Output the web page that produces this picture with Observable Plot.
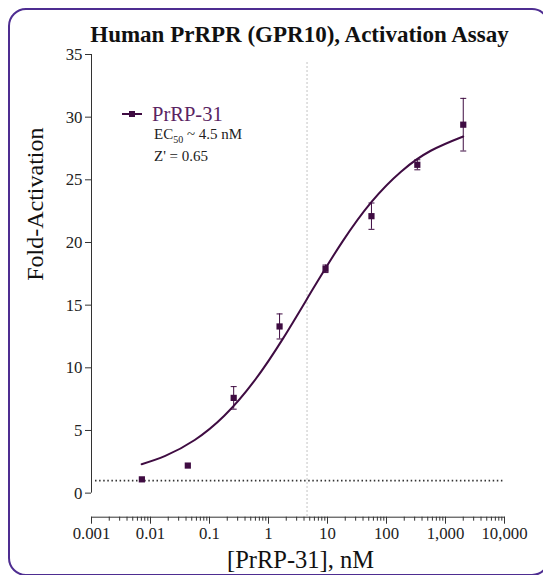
<!DOCTYPE html>
<html>
<head>
<meta charset="utf-8">
<script src="https://cdn.jsdelivr.net/npm/d3@7"></script>
<script src="https://cdn.jsdelivr.net/npm/@observablehq/plot@0.6"></script>
<style>
  body { margin: 0; background: #fff; }
  #wrap { position: relative; width: 543px; height: 575px; overflow: hidden; font-family: "Liberation Serif", "Times New Roman", serif; }
  #border { position: absolute; left: 8px; top: 8px; width: 542px; height: 568px; border: 2.5px solid #4e2d91; border-radius: 18px; box-sizing: border-box; pointer-events: none; }
  #chart { position: absolute; left: 0; top: 0; }
  #legend { position: absolute; left: 0; top: 0; pointer-events: none; }
</style>
</head>
<body>
<div id="wrap">
  <div id="chart"></div>
  <svg id="legend" width="543" height="575" font-family="Liberation Serif, Times New Roman, serif"></svg>
  <div id="border"></div>
</div>
<script>
// ---- data ----
const conc = [0.00714, 0.0429, 0.257, 1.54, 9.26, 55.6, 333, 2000];
const fold = [1.1, 2.2, 7.6, 13.3, 17.9, 22.1, 26.2, 29.4];
const sem  = [0, 0, 0.9, 1.0, 0.3, 1.05, 0.4, 2.1];
// fitted curve
const fitConc = [0.00708, 0.0178, 0.0562, 0.178, 0.562, 1.78, 5.62, 17.8, 56.2, 178, 562, 1995];
const fitFold = [2.31, 2.97, 4.24, 6.17, 8.89, 12.37, 16.26, 20.05, 23.26, 25.67, 27.32, 28.46];
const ec50 = 4.5;
const baseline = 1;
const seriesName = "PrRP-31";
const title = "Human PrRPR (GPR10), Activation Assay";
const xLabel = "[PrRP-31], nM";
const yLabel = "Fold-Activation";
const xTicks = [0.001, 0.01, 0.1, 1, 10, 100, 1000, 10000];
const xTickLabels = ["0.001", "0.01", "0.1", "1", "10", "100", "1,000", "10,000"];
const yTicks = [0, 5, 10, 15, 20, 25, 30, 35];

// ---- build ----
const pts = conc.map((c, i) => ({c, f: fold[i], lo: fold[i] - sem[i], hi: fold[i] + sem[i], e: sem[i]}));
const errPts = pts.filter(d => d.e > 0);
const fit = fitConc.map((c, i) => ({c, f: fitFold[i]}));
const minor = [];
for (let k = 0; k < xTicks.length - 1; k++) for (let m = 2; m <= 9; m++) minor.push(xTicks[k] * m);

const capSymbol = { draw(ctx, size) { const w = 3; ctx.moveTo(-w, 0); ctx.lineTo(w, 0); } };

const purple = "#3f0c42";
const fontFamily = "Liberation Serif, Times New Roman, serif";

const plot = Plot.plot({
  width: 543,
  height: 575,
  marginLeft: 91,
  marginRight: 39,
  marginTop: 54,
  marginBottom: 58.3,
  style: { fontFamily, fontSize: "16.8px", color: "#222", background: "transparent", overflow: "visible" },
  x: { type: "log", domain: [xTicks[0], xTicks[xTicks.length - 1]] },
  y: { domain: [-1.92, yTicks[yTicks.length - 1]] },
  marks: [
    // EC50 reference
    Plot.ruleX([ec50], { stroke: "#c4c4c4", strokeWidth: 1, strokeDasharray: "2,2", insetTop: 8 }),
    // baseline
    Plot.ruleY([baseline], { stroke: "#333", strokeWidth: 1.6, strokeDasharray: "1.5,2.6", insetLeft: 4 }),
    // axes
    Plot.ruleX([xTicks[0]], { y1: yTicks[0], y2: yTicks[yTicks.length - 1], stroke: "#333", strokeWidth: 1 }),
    Plot.axisY({ ticks: yTicks, tickSize: 6, tickPadding: 3, fontSize: 16.8, label: null, stroke: "#333" }),
    Plot.frame({ anchor: "bottom", stroke: "#333", strokeWidth: 1 }),
    Plot.axisX({ ticks: xTicks, tickSize: 7, tickPadding: 3, fontSize: 16.8, label: null, stroke: "#333",
                 tickFormat: d => xTickLabels[xTicks.indexOf(d)] }),
    Plot.axisX({ ticks: minor, tickSize: 4, label: null, stroke: "#333", tickFormat: () => "" }),
    // fitted curve
    Plot.line(fit, { x: "c", y: "f", stroke: purple, strokeWidth: 2, curve: "natural" }),
    // error bars
    Plot.ruleX(errPts, { x: "c", y1: "lo", y2: "hi", stroke: purple, strokeWidth: 1 }),
    Plot.dot(errPts, { x: "c", y: "lo", symbol: capSymbol, stroke: purple, strokeWidth: 1, fill: "none", r: 3 }),
    Plot.dot(errPts, { x: "c", y: "hi", symbol: capSymbol, stroke: purple, strokeWidth: 1, fill: "none", r: 3 }),
    // points
    Plot.dot(pts, { x: "c", y: "f", symbol: "square", r: 3.5, fill: purple, stroke: "none" }),
    // texts
    Plot.text([title], { frameAnchor: "top", dy: -13, dx: 1.5, lineAnchor: "bottom", fontSize: 23, fontWeight: "bold", fill: "#111" }),
    Plot.text([yLabel], { frameAnchor: "left", rotate: -90, dx: -56, dy: -5, lineAnchor: "middle", fontSize: 24, fill: "#111" }),
    Plot.text([xLabel], { frameAnchor: "bottom", dy: 43, dx: 2.5, lineAnchor: "middle", fontSize: 24.5, fill: "#111" })
  ]
});
document.getElementById("chart").appendChild(plot);

// ---- legend ----
const lg = d3.select("#legend");
lg.append("line").attr("x1", 122).attr("x2", 142).attr("y1", 114).attr("y2", 114).attr("stroke", purple).attr("stroke-width", 2);
lg.append("rect").attr("x", 129).attr("y", 111).attr("width", 6).attr("height", 6).attr("fill", purple);
lg.append("text").attr("x", 152).attr("y", 121).attr("font-size", 20.5).attr("fill", "#5a2462").text(seriesName);
const ec = lg.append("text").attr("x", 154).attr("y", 139).attr("font-size", 15).attr("fill", "#222");
ec.append("tspan").text("EC");
ec.append("tspan").attr("font-size", 10).attr("dy", 3.5).text("50");
ec.append("tspan").attr("dy", -3.5).text(" ~ " + ec50 + " nM");
lg.append("text").attr("x", 154).attr("y", 161).attr("font-size", 15).attr("fill", "#222").text("Z' = 0.65");
</script>
</body>
</html>
